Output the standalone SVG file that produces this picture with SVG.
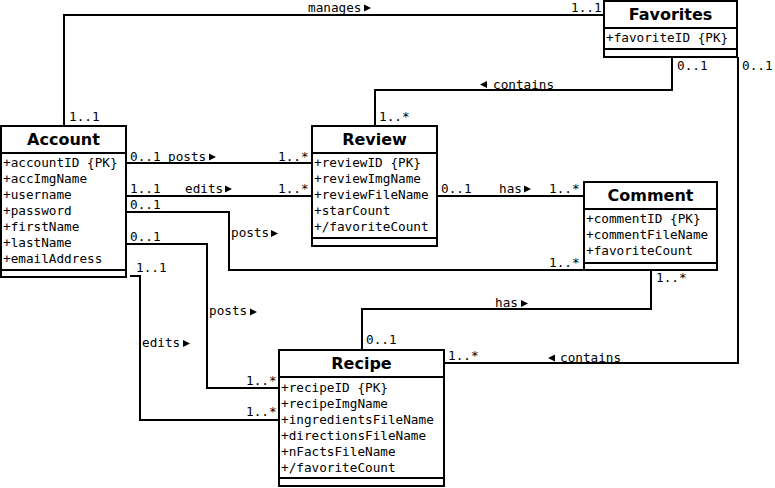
<svg xmlns="http://www.w3.org/2000/svg" width="775" height="488" viewBox="0 0 775 488">
<style>
.box{fill:#fff;stroke:#000;stroke-width:2}
.sep{stroke:#000;stroke-width:2}
.title{font-family:"DejaVu Sans",sans-serif;font-weight:bold;font-size:16px;text-anchor:middle;fill:#000}
.attr{font-family:"DejaVu Sans Mono","Liberation Mono",monospace;font-size:12.7px;fill:#000}
.lbl{font-family:"DejaVu Sans Mono","Liberation Mono",monospace;font-size:12.7px;fill:#000}
.wire{fill:none;stroke:#000;stroke-width:2}
.tri{fill:#000}
</style>
<rect width="775" height="488" fill="#fff"/>
<g id="connectors">
<polyline class="wire" points="64,126 64,15 604,15"/>
<polyline class="wire" points="672,57 672,90 375,90 375,126"/>
<polyline class="wire" points="738,57 738,363 444,363"/>
<line class="wire" x1="126" y1="163" x2="312" y2="163"/>
<line class="wire" x1="126" y1="196" x2="312" y2="196"/>
<line class="wire" x1="437" y1="196" x2="584" y2="196"/>
<polyline class="wire" points="126,212 229,212 229,270 584,270"/>
<polyline class="wire" points="126,244 207,244 207,388 279,388"/>
<polyline class="wire" points="130,276 140,276 140,420 279,420"/>
<polyline class="wire" points="651,270 651,309 362,309 362,350"/>
<g class="lbl">
<text x="308" y="12">manages</text>
<text x="571" y="12">1..1</text>
<text x="69" y="121">1..1</text>
<text x="677" y="70">0..1</text>
<text x="742" y="70">0..1</text>
<text x="493" y="89">contains</text>
<text x="379" y="121">1..*</text>
<text x="130" y="161">0..1</text>
<text x="168" y="161">posts</text>
<text x="278" y="161">1..*</text>
<text x="130" y="193">1..1</text>
<text x="185" y="193">edits</text>
<text x="278" y="193">1..*</text>
<text x="130" y="209">0..1</text>
<text x="231" y="237">posts</text>
<text x="130" y="241">0..1</text>
<text x="136" y="272">1..1</text>
<text x="441" y="193">0..1</text>
<text x="499" y="193">has</text>
<text x="549" y="193">1..*</text>
<text x="549" y="267">1..*</text>
<text x="656" y="282">1..*</text>
<text x="495" y="307">has</text>
<text x="209" y="315">posts</text>
<text x="142" y="347">edits</text>
<text x="366" y="344">0..1</text>
<text x="246" y="385">1..*</text>
<text x="246" y="416">1..*</text>
<text x="448" y="360">1..*</text>
<text x="560" y="362">contains</text>
</g>
<polygon class="tri" points="364,4.5 371,8 364,11.5"/>
<polygon class="tri" points="487,81 480,84.5 487,88"/>
<polygon class="tri" points="209,153.5 216,157 209,160.5"/>
<polygon class="tri" points="225,185.5 232,189 225,192.5"/>
<polygon class="tri" points="271,230 278,233.5 271,237"/>
<polygon class="tri" points="524,185.5 531,189 524,192.5"/>
<polygon class="tri" points="521,300 528,303.5 521,307"/>
<polygon class="tri" points="250,308.5 257,312 250,315.5"/>
<polygon class="tri" points="183,340 190,343.5 183,347"/>
<polygon class="tri" points="555,354.5 548,358 555,361.5"/>
</g>
<g id="account">
<rect class="box" x="1" y="126" width="125" height="151"/>
<line class="sep" x1="1" y1="153" x2="126" y2="153"/>
<line class="sep" x1="1" y1="270" x2="126" y2="270"/>
<text class="title" x="63.5" y="145">Account</text>
<g class="attr">
<text x="3" y="167">+accountID {PK}</text>
<text x="3" y="183">+accImgName</text>
<text x="3" y="199">+username</text>
<text x="3" y="215">+password</text>
<text x="3" y="231">+firstName</text>
<text x="3" y="247">+lastName</text>
<text x="3" y="263">+emailAddress</text>
</g>
</g>
<g id="review">
<rect class="box" x="312" y="126" width="125" height="120"/>
<line class="sep" x1="312" y1="153" x2="437" y2="153"/>
<line class="sep" x1="312" y1="238" x2="437" y2="238"/>
<text class="title" x="374.5" y="145">Review</text>
<g class="attr">
<text x="314" y="167">+reviewID {PK}</text>
<text x="314" y="183">+reviewImgName</text>
<text x="314" y="199">+reviewFileName</text>
<text x="314" y="215">+starCount</text>
<text x="314" y="231">+/favoriteCount</text>
</g>
</g>
<g id="comment">
<rect class="box" x="584" y="182" width="133" height="88"/>
<line class="sep" x1="584" y1="209" x2="717" y2="209"/>
<line class="sep" x1="584" y1="263" x2="717" y2="263"/>
<text class="title" x="650.5" y="201">Comment</text>
<g class="attr">
<text x="586" y="223">+commentID {PK}</text>
<text x="586" y="239">+commentFileName</text>
<text x="586" y="255">+favoriteCount</text>
</g>
</g>
<g id="favorites">
<rect class="box" x="604" y="1" width="133" height="56"/>
<line class="sep" x1="604" y1="28" x2="737" y2="28"/>
<line class="sep" x1="604" y1="49" x2="737" y2="49"/>
<text class="title" x="670.5" y="20">Favorites</text>
<text class="attr" x="606" y="42">+favoriteID {PK}</text>
</g>
<g id="recipe">
<rect class="box" x="279" y="350" width="165" height="136"/>
<line class="sep" x1="279" y1="377" x2="444" y2="377"/>
<line class="sep" x1="279" y1="478" x2="444" y2="478"/>
<text class="title" x="361.5" y="369">Recipe</text>
<g class="attr">
<text x="281" y="392">+recipeID {PK}</text>
<text x="281" y="408">+recipeImgName</text>
<text x="281" y="424">+ingredientsFileName</text>
<text x="281" y="440">+directionsFileName</text>
<text x="281" y="456">+nFactsFileName</text>
<text x="281" y="472">+/favoriteCount</text>
</g>
</g>
</svg>
